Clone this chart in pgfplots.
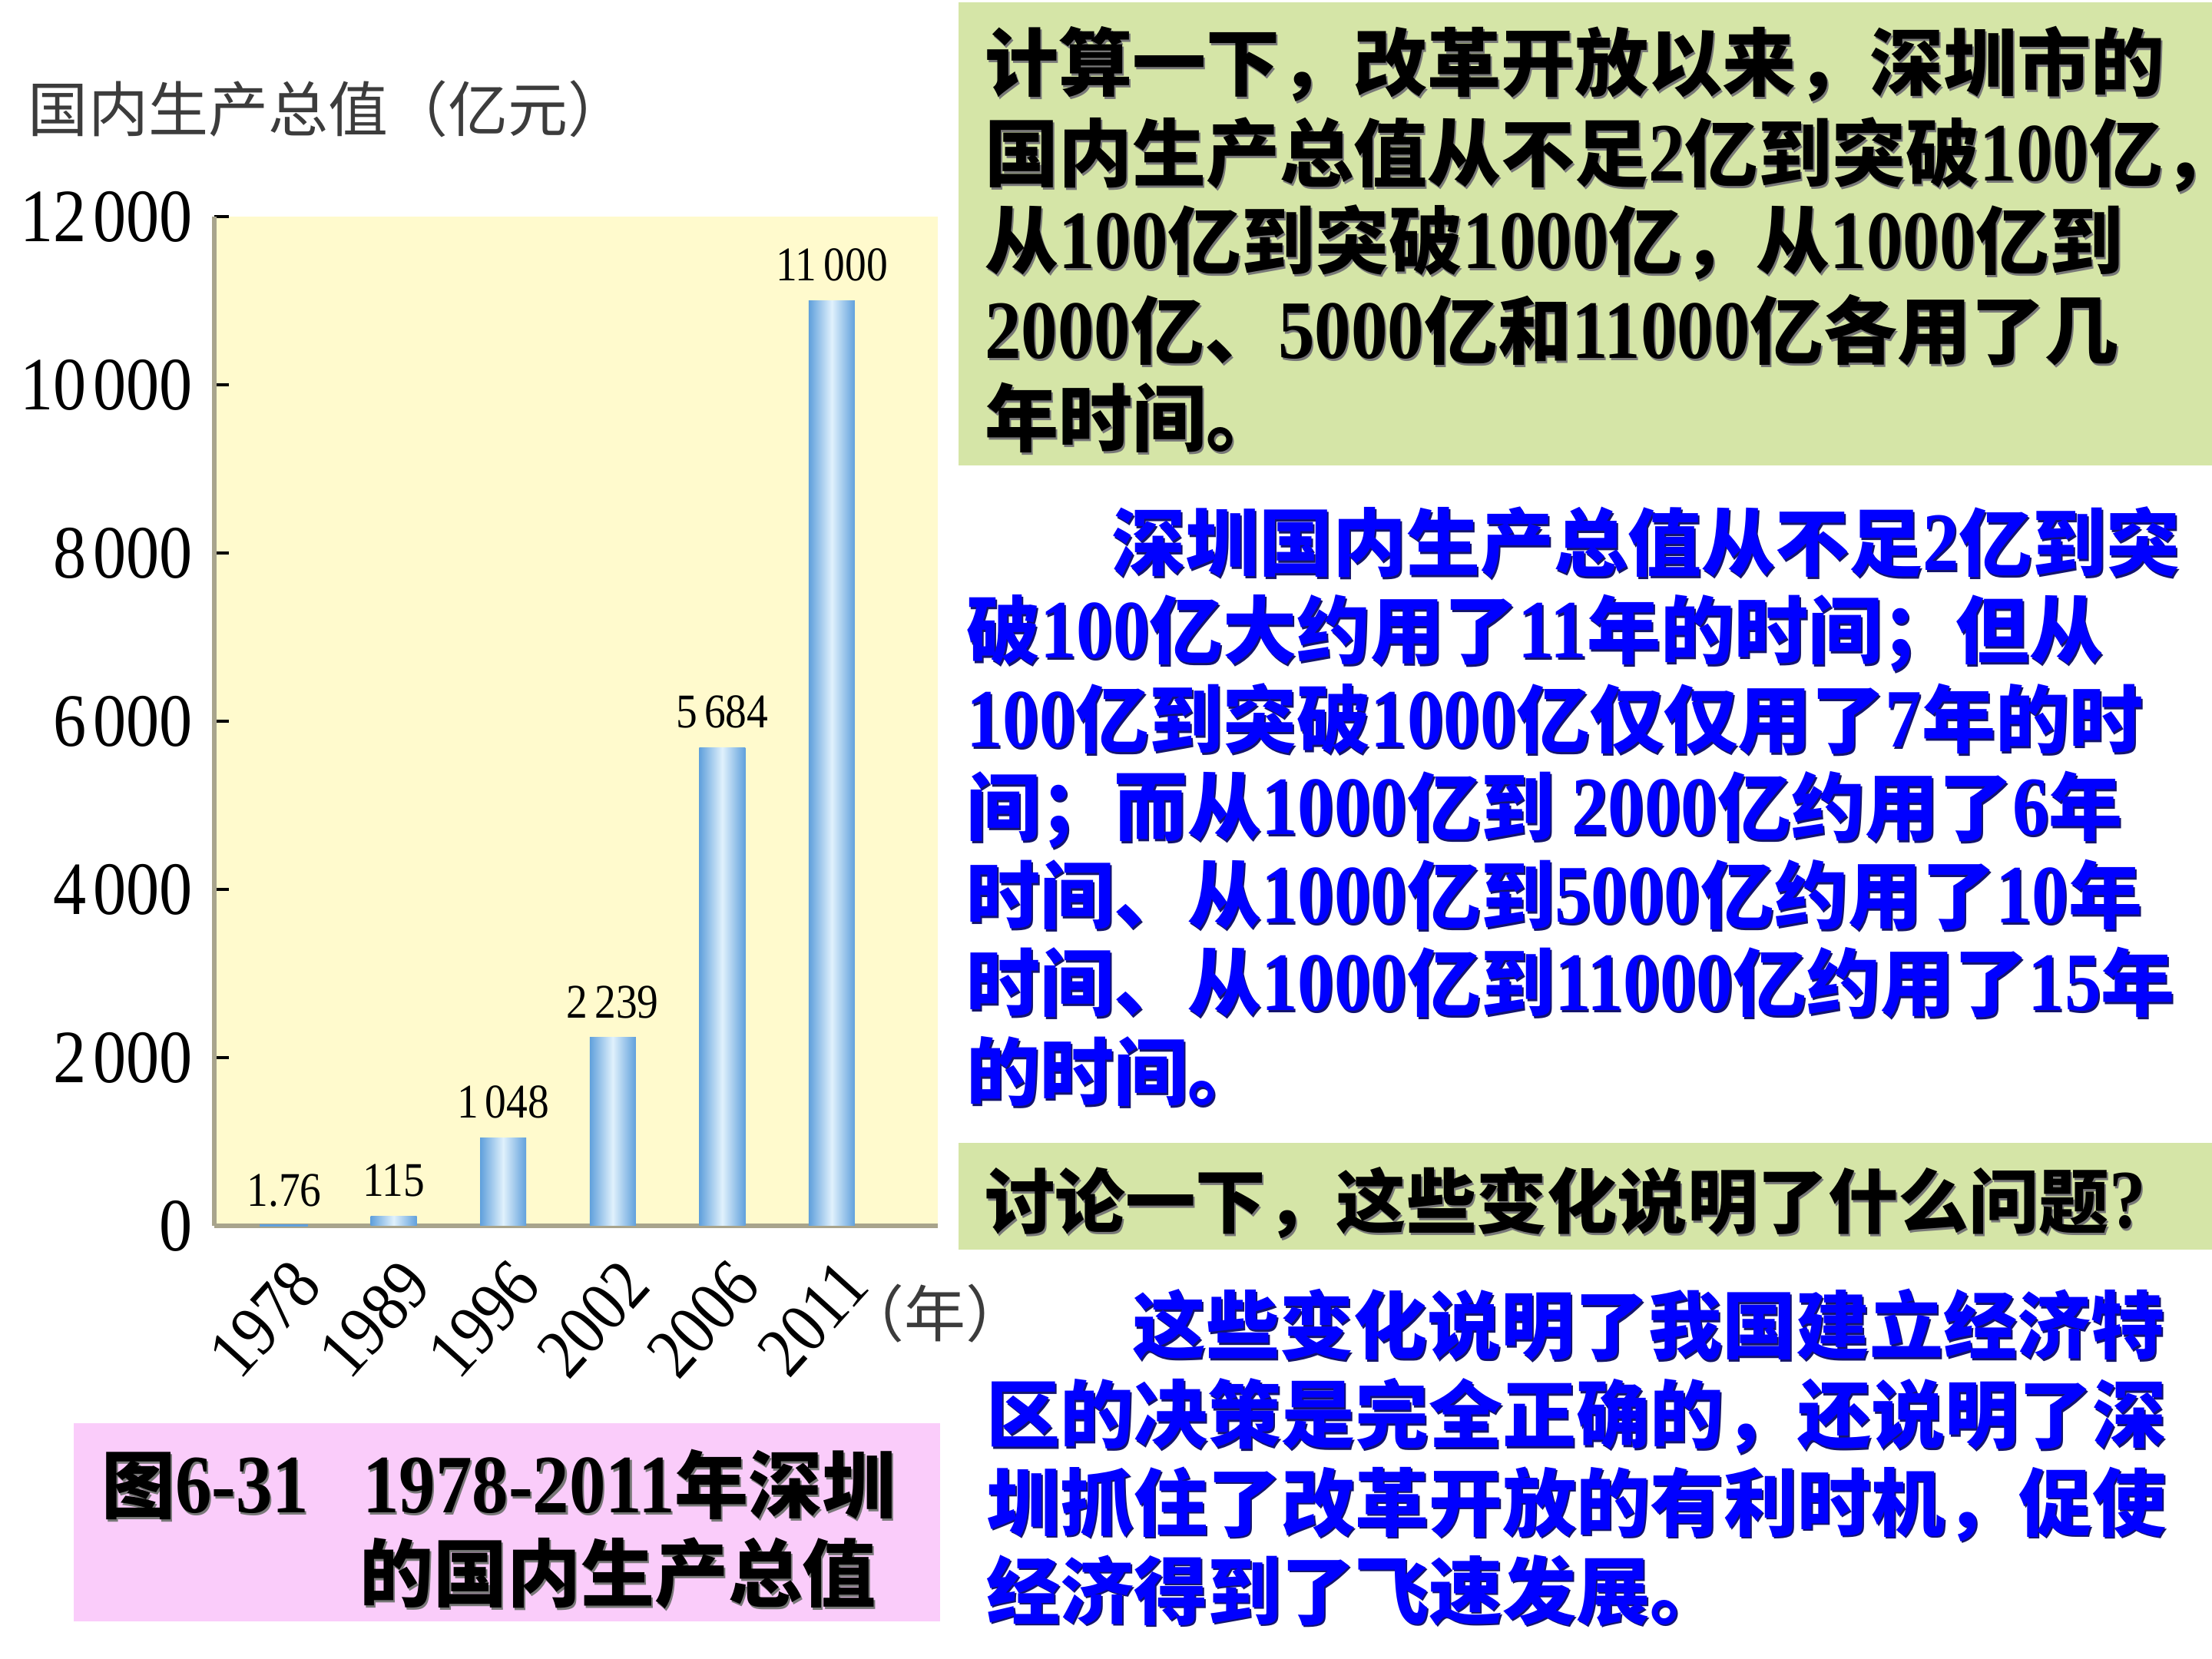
\documentclass[border=0pt]{standalone}
\usepackage{pgfplots}
\pgfplotsset{compat=1.18}
\usepackage{fontspec}
\setmainfont{Liberation Serif}
\newfontfamily\numfont[FakeStretch=0.88]{Liberation Serif}
\newfontfamily\digfont[FakeStretch=0.88]{Liberation Serif}
\newfontfamily\cjk{Noto Sans CJK SC}
\definecolor{plotbg}{RGB}{255,250,205}
\definecolor{boxgreen}{RGB}{213,229,167}
\definecolor{boxpink}{RGB}{250,204,250}
\definecolor{axgray}{RGB}{168,164,140}
\definecolor{barE}{RGB}{96,160,220}
\definecolor{barM}{RGB}{224,241,252}
\definecolor{txtblue}{RGB}{0,0,255}
\definecolor{titlegray}{RGB}{60,60,60}
\definecolor{shblk}{RGB}{120,120,120}
\definecolor{shblu}{RGB}{20,20,110}
\newcommand\ts{\kern0.9pt}
\newcommand\D[1]{{\digfont\fontsize{10.8pt}{11pt}\selectfont #1}}
\tikzset{
  blk/.style={anchor=base west, inner sep=0pt, text=black, font=\cjk\bfseries\fontsize{9.6pt}{11pt}\selectfont},
  blu/.style={blk, text=txtblue},
  blks/.style={blk, font=\cjk\bfseries\fontsize{9.15pt}{11pt}\selectfont},
}
% shadowed text line: #1 style, #2 shadow colour, #3 position, #4 text
\newcommand\sline[4]{%
  \node[#1, text=#2, xshift=0.22pt, yshift=-0.22pt] at #3 {#4};
  \node[#1] at #3 {#4};}
\pgfplotsset{
  gbar/.style={ybar, bar width=6pt, bar shift=0pt, draw=none,
    left color=barE, right color=barE, middle color=barM,
    nodes near coords, point meta=explicit symbolic,
    every node near coord/.append style={font=\numfont\fontsize{6.3pt}{7pt}\selectfont, text=black, inner sep=0pt, anchor=south, yshift=2.3pt}},
}
\begin{document}
\begin{tikzpicture}
\useasboundingbox (0,0) rectangle (288pt,216pt);
\fill[boxgreen] (124.8pt,155.4pt) rectangle (288pt,215.7pt);
\fill[boxgreen] (124.8pt,53.3pt) rectangle (288pt,67.2pt);
\fill[boxpink] (9.6pt,4.9pt) rectangle (122.4pt,30.7pt);

\begin{axis}[
  at={(27.9pt,56.4pt)}, anchor=south west,
  scale only axis, width=94.2pt, height=131.4pt,
  xmin=-0.638, xmax=5.968, ymin=0, ymax=12000,
  axis background/.style={fill=plotbg},
  axis lines*=left,
  axis line style={axgray, line width=0.6pt, -},
  scaled y ticks=false,
  ytick={0,2000,4000,6000,8000,10000,12000},
  yticklabels={0,2\ts000,4\ts000,6\ts000,8\ts000,10\ts000,12\ts000},
  xtick={0,1,2,3,4,5},
  xticklabels={1978,1989,1996,2002,2006,2011},
  /pgf/number format/assume math mode=true,
  tick align=inside,
  major tick length=1.9pt,
  ytick style={black, line width=0.45pt},
  xtick style={draw=none},
  yticklabel style={font=\numfont\fontsize{9.8pt}{10pt}\selectfont, inner sep=0pt, anchor=east, xshift=-2.6pt},
  xticklabel style={font=\numfont\fontsize{9.3pt}{10pt}\selectfont, inner sep=0pt, xshift=3.1pt, yshift=-5.9pt, rotate=48, anchor=east},
  clip=false,
]
\addplot[gbar, draw=barE, line width=0.3pt] coordinates {(0,1.76) [1.76]};
\addplot[gbar] coordinates {(1,115) [115]};
\addplot[gbar] coordinates {(2,1048) [1\ts048]};
\addplot[gbar] coordinates {(3,2239) [2\ts239]};
\addplot[gbar] coordinates {(4,5684) [5\ts684]};
\addplot[gbar] coordinates {(5,11000) [11\ts000]};
\end{axis}

\node[anchor=base west, inner sep=0pt, text=titlegray, font=\cjk\fontsize{7.8pt}{9pt}\selectfont] at (3.5pt,198.8pt) {国内生产总值（亿元）};
\node[anchor=base west, inner sep=0pt, text=titlegray, font=\cjk\fontsize{8pt}{9pt}\selectfont] at (109.5pt,41.9pt) {（年）};

\sline{blk}{shblk}{(128pt,204.2pt)}{计算一下，改革开放以来，深圳市的}
\sline{blk}{shblk}{(128pt,192.4pt)}{国内生产总值从不足\D{2}亿到突破\D{100}亿，}
\sline{blk}{shblk}{(128pt,181.0pt)}{从\D{100}亿到突破\D{1000}亿，从\D{1000}亿到}
\sline{blk}{shblk}{(128pt,169.3pt)}{\D{2000}亿、\D{5000}亿和\D{11000}亿各用了几}
\sline{blk}{shblk}{(128pt,157.9pt)}{年时间。}

\sline{blu}{shblu}{(144.5pt,141.7pt)}{深圳国内生产总值从不足\D{2}亿到突}
\sline{blu}{shblu}{(125.6pt,130.3pt)}{破\D{100}亿大约用了\D{11}年的时间；但从}
\sline{blu}{shblu}{(125.6pt,118.7pt)}{\D{100}亿到突破\D{1000}亿仅仅用了\D{7}年的时}
\sline{blu}{shblu}{(125.6pt,107.3pt)}{间；而从\D{1000}亿到 \D{2000}亿约用了\D{6}年}
\sline{blu}{shblu}{(125.6pt,95.8pt)}{时间、从\D{1000}亿到\D{5000}亿约用了\D{10}年}
\sline{blu}{shblu}{(125.6pt,84.4pt)}{时间、从\D{1000}亿到\D{11000}亿约用了\D{15}年}
\sline{blu}{shblu}{(125.6pt,72.8pt)}{的时间。}

\sline{blks}{shblk}{(128pt,56.1pt)}{讨论一下，这些变化说明了什么问题\D{?}}

\sline{blu}{shblu}{(147.2pt,39.8pt)}{这些变化说明了我国建立经济特}
\sline{blu}{shblu}{(128.2pt,28.2pt)}{区的决策是完全正确的，还说明了深}
\sline{blu}{shblu}{(128.2pt,16.8pt)}{圳抓住了改革开放的有利时机，促使}
\sline{blu}{shblu}{(128.2pt,5.3pt)}{经济得到了飞速发展。}

\sline{blk}{shblk}{(13.0pt,19.0pt)}{图\D{6-31}\hspace{7pt}\D{1978-2011}年深圳}
\sline{blk}{shblk}{(46.6pt,7.5pt)}{的国内生产总值}
\end{tikzpicture}
\end{document}
